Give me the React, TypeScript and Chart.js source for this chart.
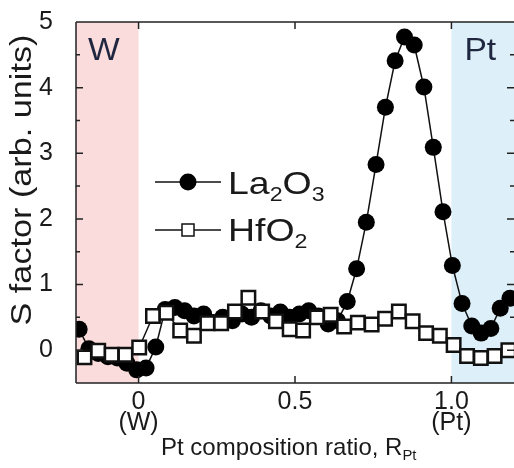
import React, { useEffect, useRef } from 'react';
import { Chart, registerables } from 'chart.js';

Chart.register(...registerables);

// ---- data ----
const laX = [
  -0.19, -0.159, -0.129, -0.098, -0.068, -0.037, -0.006, 0.024, 0.055, 0.085,
  0.116, 0.147, 0.177, 0.208, 0.238, 0.269, 0.3, 0.33, 0.361, 0.391,
  0.422, 0.453, 0.483, 0.514, 0.544, 0.575, 0.606, 0.636, 0.667, 0.697,
  0.728, 0.759, 0.789, 0.82, 0.85, 0.881, 0.912, 0.942, 0.973, 1.003,
  1.034, 1.065, 1.095, 1.126, 1.156, 1.187,
];
const laY = [
  0.32, 0.02, -0.05, -0.1, -0.12, -0.2, -0.3, -0.27, 0.05, 0.62,
  0.65, 0.6, 0.52, 0.55, 0.42, 0.5, 0.45, 0.55, 0.5, 0.6,
  0.52, 0.58, 0.5, 0.55, 0.6, 0.52, 0.4, 0.45, 0.74, 1.24,
  1.95, 2.83, 3.7, 4.41, 4.77, 4.65, 4.01, 3.09, 2.11, 1.29,
  0.71, 0.37, 0.26, 0.33, 0.64, 0.79,
];
const hfX = [
  -0.173, -0.129, -0.086, -0.042, 0.002, 0.046, 0.089, 0.133, 0.177, 0.22,
  0.264, 0.308, 0.351, 0.395, 0.439, 0.483, 0.526, 0.57, 0.614, 0.657,
  0.701, 0.745, 0.788, 0.832, 0.876, 0.919, 0.963, 1.007, 1.05, 1.094,
  1.138, 1.182,
];
const hfY = [
  -0.11, -0.01, -0.07, -0.07, 0.04, 0.52, 0.57, 0.3, 0.22, 0.41,
  0.41, 0.59, 0.8, 0.59, 0.44, 0.32, 0.3, 0.5, 0.54, 0.36,
  0.42, 0.39, 0.48, 0.59, 0.44, 0.26, 0.22, 0.08, -0.09, -0.12,
  -0.09, 0.0,
];
const xTicks = [0, 0.5, 1.0];
const xTickLabels = [['0', '(W)'], ['0.5'], ['1.0', '(Pt)']];
const yTicks = [0, 1, 2, 3, 4, 5];
const yMinorTicks = [0.5, 1.5, 2.5, 3.5, 4.5];
const xMin = -0.2;
const xMax = 1.2;
const yMin = -0.5;
const yMax = 5;
const regionFrom = [-0.2, 1.0];
const regionTo = [0, 1.2];
const regionLabels = ['W', 'Pt'];
const regionColors = ['#fadcdc', '#ddf0f9'];
const seriesNames = ['La2O3', 'HfO2'];

const FONT = '"Liberation Sans", Arial, Helvetica, sans-serif';
const INK = '#1a1a1a';

type Part = { t: string; sub?: boolean };

function drawRich(ctx: CanvasRenderingContext2D, parts: Part[], x: number, y: number, size: number, stretch: number) {
  ctx.save();
  ctx.translate(x, y);
  ctx.scale(stretch, 1);
  let cx = 0;
  ctx.textBaseline = 'alphabetic';
  ctx.textAlign = 'left';
  for (const p of parts) {
    const s = p.sub ? size * 0.62 : size;
    ctx.font = `${s}px ${FONT}`;
    ctx.fillText(p.t, cx, p.sub ? size * 0.22 : 0);
    cx += ctx.measureText(p.t).width;
  }
  ctx.restore();
}

const decor = {
  id: 'decor',
  beforeDatasetsDraw(chart: any) {
    const { ctx, chartArea } = chart;
    const xs = chart.scales.x;
    ctx.save();
    for (let i = 0; i < regionFrom.length; i++) {
      const a = xs.getPixelForValue(regionFrom[i]);
      const b = xs.getPixelForValue(regionTo[i]);
      ctx.fillStyle = regionColors[i];
      ctx.fillRect(a, chartArea.top, b - a, chartArea.bottom - chartArea.top);
    }
    ctx.fillStyle = '#1f2640';
    drawRich(ctx, [{ t: regionLabels[0] }], xs.getPixelForValue(regionFrom[0]) + 12, chartArea.top + 38, 32, 1.05);
    drawRich(ctx, [{ t: regionLabels[1] }], xs.getPixelForValue(regionFrom[1]) + 13, chartArea.top + 38, 32, 1.05);
    ctx.restore();
  },
  afterDraw(chart: any) {
    const { ctx, chartArea } = chart;
    const xs = chart.scales.x;
    const ys = chart.scales.y;
    const { left, right, top, bottom } = chartArea;
    ctx.save();
    ctx.strokeStyle = '#222';
    ctx.lineWidth = 1.5;
    ctx.beginPath();
    ctx.moveTo(left, top);
    ctx.lineTo(left, bottom);
    ctx.moveTo(left, top);
    ctx.lineTo(right, top);
    ctx.moveTo(left, bottom);
    ctx.lineTo(right, bottom);
    for (const v of yTicks) {
      const p = ys.getPixelForValue(v);
      ctx.moveTo(left, p); ctx.lineTo(left + 7, p);
      ctx.moveTo(right, p); ctx.lineTo(right - 7, p);
    }
    for (const v of yMinorTicks) {
      const p = ys.getPixelForValue(v);
      ctx.moveTo(left, p); ctx.lineTo(left + 4, p);
      ctx.moveTo(right, p); ctx.lineTo(right - 4, p);
    }
    for (const v of xTicks) {
      const p = xs.getPixelForValue(v);
      ctx.moveTo(p, top); ctx.lineTo(p, top + 7);
      ctx.moveTo(p, bottom); ctx.lineTo(p, bottom - 7);
    }
    ctx.stroke();

    // legend
    ctx.strokeStyle = '#111';
    ctx.lineWidth = 1.5;
    const ly = [182, 230];
    for (let i = 0; i < 2; i++) {
      ctx.beginPath();
      ctx.moveTo(155, ly[i]);
      ctx.lineTo(221, ly[i]);
      ctx.stroke();
    }
    ctx.beginPath();
    ctx.arc(188, ly[0], 8.5, 0, Math.PI * 2);
    ctx.fillStyle = '#000';
    ctx.fill();
    ctx.fillStyle = '#fff';
    ctx.fillRect(182, ly[1] - 6, 12, 12);
    ctx.strokeRect(182, ly[1] - 6, 12, 12);
    ctx.fillStyle = INK;
    drawRich(ctx, [{ t: 'La' }, { t: '2', sub: true }, { t: 'O' }, { t: '3', sub: true }], 228, 194, 32, 1.17);
    drawRich(ctx, [{ t: 'Hf' }, { t: 'O' }, { t: '2', sub: true }], 228, 241, 32, 1.17);

    // x title
    drawRich(ctx, [{ t: 'Pt composition ratio, R' }, { t: 'Pt', sub: true }], 161, 455, 24, 1.0);

    // y title
    ctx.save();
    ctx.translate(23, 180);
    ctx.rotate(-Math.PI / 2);
    ctx.scale(1.18, 1);
    ctx.font = `29px ${FONT}`;
    ctx.textAlign = 'center';
    ctx.textBaseline = 'middle';
    ctx.fillText('S factor (arb. units)', 0, 0);
    ctx.restore();
    ctx.restore();
  },
};

export default function App() {
  const ref = useRef<HTMLCanvasElement | null>(null);
  useEffect(() => {
    if (!ref.current) return;
    const chart = new Chart(ref.current, {
      type: 'line',
      data: {
        datasets: [
          {
            label: seriesNames[1],
            data: hfX.map((x, i) => ({ x, y: hfY[i] })),
            borderColor: '#111',
            borderWidth: 1.5,
            pointStyle: 'rect',
            pointRadius: 9.5,
            pointBorderWidth: 2.5,
            pointBackgroundColor: '#fff',
            pointBorderColor: '#111',
            clip: 0,
            order: 0,
          },
          {
            label: seriesNames[0],
            data: laX.map((x, i) => ({ x, y: laY[i] })),
            borderColor: '#111',
            borderWidth: 1.5,
            pointStyle: 'circle',
            pointRadius: 8.5,
            pointBorderWidth: 0,
            pointBackgroundColor: '#000',
            clip: 0,
            order: 1,
          },
        ],
      },
      options: {
        animation: false,
        responsive: false,
        maintainAspectRatio: false,
        layout: { autoPadding: false, padding: { top: 22, right: 0, left: 0, bottom: 0 } },
        plugins: {
          legend: { display: false },
          tooltip: { enabled: false },
        },
        scales: {
          x: {
            type: 'linear',
            min: xMin,
            max: xMax,
            grid: { display: false },
            border: { display: false },
            afterBuildTicks: (s: any) => {
              s.ticks = xTicks.map((v) => ({ value: v }));
            },
            afterFit: (s: any) => {
              s.height = 85;
              s.paddingLeft = 0;
              s.paddingRight = 0;
            },
            ticks: {
              autoSkip: false,
              maxRotation: 0,
              padding: 0,
              color: INK,
              font: { family: FONT, size: 25, lineHeight: 0.85 },
              callback: (_v: any, i: number) => xTickLabels[i],
            },
          },
          y: {
            type: 'linear',
            min: yMin,
            max: yMax,
            grid: { display: false },
            border: { display: false },
            afterBuildTicks: (s: any) => {
              s.ticks = yTicks.map((v) => ({ value: v }));
            },
            afterFit: (s: any) => {
              s.width = 76;
              s.paddingTop = 0;
              s.paddingBottom = 0;
            },
            ticks: {
              padding: 15,
              color: INK,
              font: { family: FONT, size: 25 },
              callback: (v: any) => String(v),
            },
          },
        },
      },
      plugins: [decor],
    } as any);
    return () => chart.destroy();
  }, []);
  return (
    <div style={{ position: 'fixed', left: 0, top: 0, width: 514, height: 468, background: '#fff' }}>
      <canvas ref={ref} width={514} height={468} />
    </div>
  );
}
